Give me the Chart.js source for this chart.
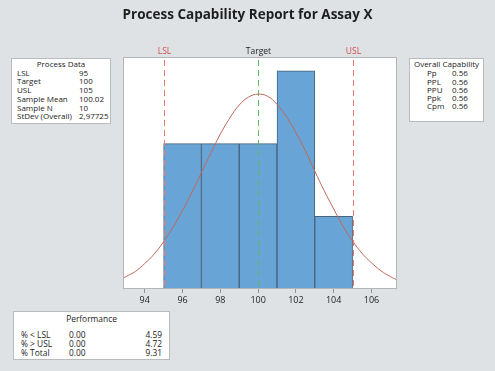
<!DOCTYPE html>
<html>
<head>
<meta charset="utf-8">
<script src="https://cdn.jsdelivr.net/npm/chart.js@4/dist/chart.umd.min.js"></script>
<style>
    html, body { margin: 0; padding: 0; }
    body { width: 495px; height: 371px; background: #dfe2e5; position: relative; overflow: hidden;
           font-family: "Open Sans", "Noto Sans", sans-serif; color: #222; }
    #wrap { position: absolute; left: 0; top: 0; width: 495px; height: 371px; }
    .title { position: absolute; left: 0; width: 495px; top: 5px; text-align: center;
             font-size: 13.5px; line-height: 18px; font-weight: bold; color: #1e1e1e; }
    .box { position: absolute; background: #fff; border: 1px solid #b9bcbf; }
    .box .hd { text-align: center; }
    .box table { border-collapse: collapse; table-layout: fixed; }
    .box td { padding: 0; white-space: nowrap; overflow: visible; }
    #procBox { font-size: 8px; }
    #procBox .hd, #procBox td { line-height: 8.7px; height: 8.7px; }
    #capBox { font-size: 8px; }
    #capBox .hd, #capBox td { line-height: 8.3px; height: 8.3px; }
    #perfBox { font-size: 8.4px; }
    #perfBox .hd, #perfBox td { line-height: 9px; height: 9px; }
</style>
</head>
<body>
<div id="wrap"><canvas id="chart" width="495" height="371"></canvas></div>
<div class="title">Process Capability Report for Assay X</div>
<div class="box" id="procBox" style="left:11px; top:58px; width:98px; height:64px;"></div>
<div class="box" id="capBox" style="left:409px; top:58px; width:73px; height:62px;"></div>
<div class="box" id="perfBox" style="left:13px; top:311px; width:155px; height:47px;"></div>

<script>
// histogram bins (bin centres, counts)
const binCenters = [96, 98, 100, 102, 104];
const binCounts = [2, 2, 2, 3, 1];

// fitted normal curve
const curveX = [92.8, 93, 93.5, 94, 94.5, 95, 95.5, 96, 96.5, 97, 97.5, 98, 98.5, 99, 99.5, 100,
    100.5, 101, 101.5, 102, 102.5, 103, 103.5, 104, 104.5, 105, 105.5, 106, 106.5, 107, 107.4];
const curveY = [0.14, 0.17, 0.24, 0.35, 0.48, 0.65, 0.85, 1.08, 1.33, 1.60, 1.87, 2.13, 2.35, 2.53, 2.64, 2.68,
    2.65, 2.54, 2.37, 2.15, 1.90, 1.62, 1.35, 1.10, 0.86, 0.66, 0.49, 0.36, 0.25, 0.17, 0.12];

const tickValues = [94, 96, 98, 100, 102, 104, 106];

// spec limits
const specNames = ['LSL', 'Target', 'USL'];
const specValues = [95, 100, 105];
const specColors = ['#e57a72', '#5cb85c', '#e57a72'];
const specLabelColors = ['#d0504a', '#222', '#d0504a'];

// text tables
const procLabels = ['LSL', 'Target', 'USL', 'Sample Mean', 'Sample N', 'StDev (Overall)'];
const procValues = ['95', '100', '105', '100.02', '10', '2,97725'];
const capLabels = ['Pp', 'PPL', 'PPU', 'Ppk', 'Cpm'];
const capValues = ['0.56', '0.56', '0.56', '0.56', '0.56'];
const perfLabels = ['% < LSL', '% > USL', '% Total'];
const perfObserved = ['0.00', '0.00', '0.00'];
const perfExpected = ['4.59', '4.72', '9.31'];

// fill the boxes
function fillBoxes() {
    let html = '<div class="hd" style="margin-top:1px">Process Data</div><table style="margin-left:5px; width:90px">' +
               '<colgroup><col style="width:62px"><col style="width:28px"></colgroup>';
    procLabels.forEach((l, i) => {
        html += `<tr><td>${l}</td><td>${procValues[i]}</td></tr>`;
    });
    document.getElementById('procBox').innerHTML = html + '</table>';

    html = '<div class="hd" style="margin-top:1px; margin-bottom:1px">Overall Capability</div><table style="margin-left:17px; width:50px">' +
           '<colgroup><col style="width:25px"><col style="width:25px"></colgroup>';
    capLabels.forEach((l, i) => {
        html += `<tr><td>${l}</td><td>${capValues[i]}</td></tr>`;
    });
    document.getElementById('capBox').innerHTML = html + '</table>';

    html = '<div class="hd" style="margin-top:2px; margin-bottom:7px">Performance</div><table style="margin-left:7px; width:141px">' +
           '<colgroup><col style="width:48px"><col style="width:64px"><col style="width:29px"></colgroup>';
    perfLabels.forEach((l, i) => {
        html += `<tr><td>${l}</td><td>${perfObserved[i]}</td>` +
                `<td style="text-align:right">${perfExpected[i]}</td></tr>`;
    });
    document.getElementById('perfBox').innerHTML = html + '</table>';
}
fillBoxes();

// white plot area + frame + spec lines
const plotDecor = {
    id: 'plotDecor',
    beforeDraw(chart) {
        const { ctx, chartArea: a } = chart;
        ctx.save();
        ctx.fillStyle = '#ffffff';
        ctx.fillRect(a.left, a.top, a.right - a.left, a.bottom - a.top);
        ctx.restore();
    },
    afterDatasetsDraw(chart) {
        const { ctx, chartArea: a } = chart;
        const xs = chart.scales.x;
        ctx.save();
        specValues.forEach((v, i) => {
            const px = Math.round(xs.getPixelForValue(v)) + 0.5;
            ctx.strokeStyle = specColors[i];
            ctx.lineWidth = 1;
            ctx.setLineDash([6, 4]);
            ctx.beginPath();
            ctx.moveTo(px, a.top + 3);
            ctx.lineTo(px, a.bottom);
            ctx.stroke();
            ctx.setLineDash([]);
            ctx.fillStyle = specLabelColors[i];
            ctx.font = '8.5px "Open Sans", "Noto Sans", sans-serif';
            ctx.textAlign = 'center';
            ctx.textBaseline = 'bottom';
            ctx.fillText(specNames[i], px, a.top - 1);
        });
        ctx.strokeStyle = '#b3b6b9';
        ctx.lineWidth = 1;
        ctx.strokeRect(a.left + 0.5, a.top + 0.5, a.right - a.left - 1, a.bottom - a.top - 1);
        ctx.restore();
    }
};

const ctx = document.getElementById('chart').getContext('2d');
new Chart(ctx, {
    data: {
        datasets: [{
            type: 'line',
            data: curveX.map((x, i) => ({ x: x, y: curveY[i] })),
            borderColor: '#bf6a58',
            borderWidth: 1,
            pointRadius: 0,
            tension: 0.4,
            fill: false,
            order: 0
        }, {
            type: 'bar',
            data: binCenters.map((x, i) => ({ x: x, y: binCounts[i] })),
            backgroundColor: '#68a4d5',
            borderColor: '#44637e',
            borderWidth: 1,
            barPercentage: 1,
            categoryPercentage: 1,
            order: 1
        }]
    },
    options: {
        responsive: false,
        animation: false,
        layout: { padding: { left: 123, right: 98, top: 57, bottom: 62 } },
        plugins: { legend: { display: false }, tooltip: { enabled: false } },
        scales: {
            x: {
                type: 'linear',
                offset: false,
                min: 92.85,
                max: 107.35,
                afterBuildTicks: s => { s.ticks = tickValues.map(v => ({ value: v })); },
                afterFit: s => { s.height = 20; },
                grid: { offset: false, drawOnChartArea: false, drawTicks: true, tickLength: 4, color: '#8f9295' },
                border: { display: false },
                ticks: { color: '#222', font: { size: 9, family: '"Open Sans", "Noto Sans", sans-serif' }, padding: 2, maxRotation: 0 }
            },
            y: {
                display: false,
                min: 0,
                max: 3.19
            }
        }
    },
    plugins: [plotDecor]
});
</script>
</body>
</html>
